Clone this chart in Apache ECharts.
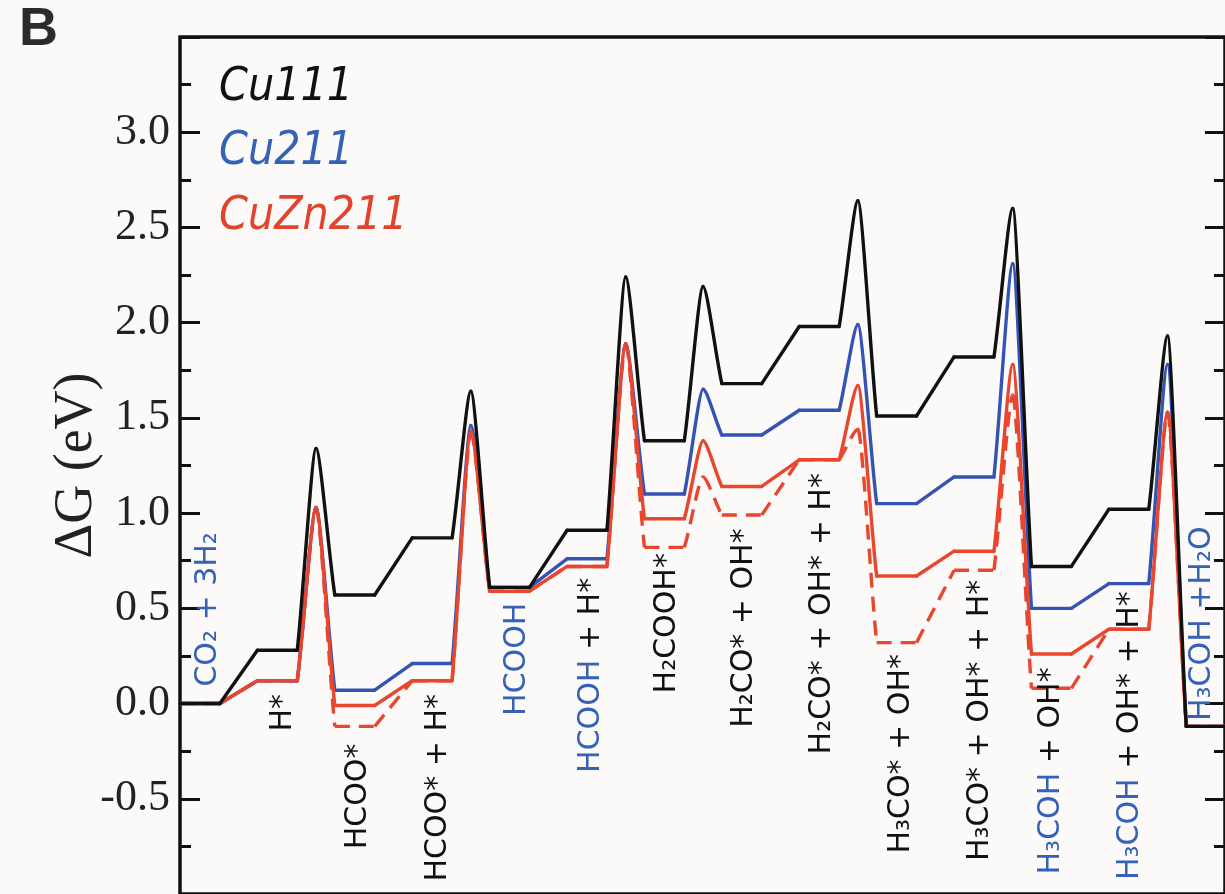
<!DOCTYPE html>
<html>
<head>
<meta charset="utf-8">
<script src="https://cdn.jsdelivr.net/npm/echarts@6/dist/echarts.min.js"></script>
<style>
  html, body { margin: 0; padding: 0; background: #fcfaf9; }
  #chart { width: 1225px; height: 894px; }
</style>
</head>
<body>
<div id="chart"></div>
<script>
// Intermediate states along the formate route of CO2 hydrogenation to methanol.
// Each label is split into gas-phase (blue) and adsorbed (black) parts.
const stateLabels = [
  [['CO₂ + 3H₂', 'gas']],
  [['H*', 'ads']],
  [['HCOO*', 'ads']],
  [['HCOO* + H*', 'ads']],
  [['HCOOH', 'gas']],
  [['HCOOH', 'gas'], [' + H*', 'ads']],
  [['H₂COOH*', 'ads']],
  [['H₂CO* + OH*', 'ads']],
  [['H₂CO* + OH* + H*', 'ads']],
  [['H₃CO* + OH*', 'ads']],
  [['H₃CO* + OH* + H*', 'ads']],
  [['H₃COH', 'gas'], [' + OH*', 'ads']],
  [['H₃COH', 'gas'], [' + OH* + H*', 'ads']],
  [['H₃COH +H₂O', 'gas']]
];

// Free energy of each state (eV)
const cu111   = [0.00, 0.28, 0.57, 0.87, 0.61, 0.91, 1.38, 1.68, 1.98, 1.51, 1.82, 0.72, 1.02, -0.12];
const cu211   = [0.00, 0.12, 0.07, 0.21, 0.61, 0.76, 1.10, 1.41, 1.54, 1.05, 1.19, 0.50, 0.63, -0.12];
const cuzn211 = [0.00, 0.12, -0.01, 0.12, 0.59, 0.72, 0.97, 1.14, 1.28, 0.67, 0.80, 0.26, 0.39, -0.12];
// CuZn211 with Zn-stabilised intermediates (dashed path)
const cuzn211Zn = [0.00, 0.12, -0.12, 0.12, 0.59, 0.72, 0.82, 0.99, 1.28, 0.32, 0.70, 0.08, 0.39, -0.12];

// Transition states: barrier k sits between state barrierAfter[k] and the next one
const barrierAfter = [1, 3, 5, 6, 8, 10, 12];
const cu111TS     = [1.34, 1.64, 2.24, 2.19, 2.64, 2.60, 1.93];
const cu211TS     = [1.03, 1.46, 1.89, 1.65, 1.99, 2.31, 1.78];
const cuzn211TS   = [1.03, 1.43, 1.89, 1.38, 1.67, 1.78, 1.53];
const cuzn211ZnTS = [1.03, 1.43, 1.89, 1.19, 1.44, 1.62, 1.53];

// Y axis
const yMin = -1.0, yMax = 3.5, yStep = 0.5;

// Where each state label ends (its top): [x offset within the step, energy]
const labelLayout = [
  [0.36, 0.90], [0.33, 0.05], [0.30, -0.21], [0.33, 0.05], [0.36, 0.53],
  [0.31, 0.66], [0.29, 0.79], [0.29, 0.92], [0.29, 1.21], [0.32, 0.26],
  [0.34, 0.65], [0.25, 0.19], [0.28, 0.59], [0.20, 0.93]
];

const PLATEAU = 0.515;   // fraction of a step taken by the flat level
const X_MAX = 13.5;

const BLACK = '#111111', BLUE = '#3454b4', RED = '#e8462e';
const TEXT_BLUE = '#3561b6';

function profileRenderer(energies, barriers, style) {
  const tsByState = {};
  barrierAfter.forEach((s, k) => { tsByState[s] = barriers[k]; });
  return function (params, api) {
    const i = api.value(0);
    const e = api.value(1);
    const last = i === energies.length - 1;
    const a = api.coord([i, e]);
    const b = api.coord([last ? X_MAX : i + PLATEAU, e]);
    const children = [{
      type: 'line', shape: { x1: a[0], y1: a[1], x2: b[0], y2: b[1] }, style: style
    }];
    if (!last) {
      const n = api.coord([i + 1, energies[i + 1]]);
      const ts = tsByState[i];
      if (ts === undefined) {
        children.push({ type: 'line', shape: { x1: b[0], y1: b[1], x2: n[0], y2: n[1] }, style: style });
      } else {
        // steep, nearly straight flanks with a rounded summit
        const p = api.coord([i + PLATEAU + (1 - PLATEAU) / 2, ts]);
        const dx = p[0] - b[0];
        children.push({
          type: 'bezierCurve',
          shape: { x1: b[0], y1: b[1],
                   cpx1: b[0] + 0.3 * dx, cpy1: b[1] + 0.25 * (p[1] - b[1]),
                   cpx2: p[0] - 0.22 * dx, cpy2: p[1], x2: p[0], y2: p[1] },
          style: style
        });
        children.push({
          type: 'bezierCurve',
          shape: { x1: p[0], y1: p[1], cpx1: p[0] + 0.22 * dx, cpy1: p[1],
                   cpx2: n[0] - 0.3 * dx, cpy2: n[1] + 0.25 * (p[1] - n[1]),
                   x2: n[0], y2: n[1] },
          style: style
        });
      }
    }
    return { type: 'group', children: children };
  };
}

function profileSeries(name, energies, barriers, color, dashed, z) {
  const style = {
    stroke: color, fill: 'none', lineWidth: 3.4,
    lineCap: dashed ? 'butt' : 'round', lineJoin: 'round'
  };
  if (dashed) style.lineDash = [15, 9];
  return {
    name: name,
    type: 'custom',
    z: z,
    silent: true,
    itemStyle: { color: color },
    renderItem: profileRenderer(energies, barriers, style),
    encode: { x: 0, y: 1 },
    data: energies.map((e, i) => [i, e])
  };
}

function labelRenderer(params, api) {
  const i = api.value(2);
  const p = api.coord([i + labelLayout[i][0], labelLayout[i][1]]);
  const text = stateLabels[i].map(([t, kind]) => '{' + kind + '|' + t + '}').join('');
  return {
    type: 'text',
    x: p[0], y: p[1],
    rotation: Math.PI / 2,
    style: {
      text: text,
      align: 'right',
      verticalAlign: 'middle',
      fontFamily: 'DejaVu Sans',
      fontSize: 30,
      fill: BLACK,
      rich: {
        gas: { fill: TEXT_BLUE, fontFamily: 'DejaVu Sans', fontSize: 30 },
        ads: { fill: BLACK, fontFamily: 'DejaVu Sans', fontSize: 30 }
      }
    }
  };
}

const chart = echarts.init(document.getElementById('chart'), null, { renderer: 'canvas' });

const tickLine = { color: BLACK, width: 3 };

chart.setOption({
  animation: false,
  backgroundColor: '#fcfaf9',
  graphic: [{
    type: 'text', left: 19, top: 3,
    style: { text: 'B', font: 'bold 54px "Liberation Sans"', fill: '#2b2b2b' }
  }],
  legend: {
    orient: 'vertical',
    left: 209, top: 60,
    itemWidth: 0, itemHeight: 0, itemGap: 18.5,
    selectedMode: false,
    textStyle: {
      fontFamily: '"DejaVu Sans Condensed", "DejaVu Sans"',
      fontSize: 46, fontStyle: 'italic', lineHeight: 46
    },
    data: [
      { name: 'Cu111', textStyle: { color: BLACK } },
      { name: 'Cu211', textStyle: { color: TEXT_BLUE } },
      { name: 'CuZn211', textStyle: { color: '#e2432c' } }
    ]
  },
  grid: {
    left: 180, right: -3, top: 37, bottom: -3.5,
    show: true, borderColor: BLACK, borderWidth: 3.5, backgroundColor: 'transparent'
  },
  xAxis: { type: 'value', min: 0, max: X_MAX, show: false },
  yAxis: [{
    type: 'value', min: yMin, max: yMax, interval: yStep,
    name: 'ΔG (eV)', nameLocation: 'middle', nameGap: 76, nameMoveOverlap: false,
    nameTextStyle: { fontFamily: 'Liberation Serif', fontSize: 54, color: '#222' },
    axisLine: { show: false },
    axisTick: { inside: true, length: 20, lineStyle: tickLine },
    minorTick: { show: true, splitNumber: 2, length: 11, lineStyle: tickLine },
    splitLine: { show: false },
    axisLabel: {
      margin: 10, fontFamily: 'Liberation Serif', fontSize: 44, color: '#222',
      formatter: v => (v > yMax - 0.01 || v < yMin + 0.01) ? '' : v.toFixed(1)
    }
  }, {
    type: 'value', position: 'right', min: yMin, max: yMax, interval: yStep,
    axisLine: { show: false },
    axisTick: { inside: true, length: 20, lineStyle: tickLine },
    minorTick: { show: true, splitNumber: 2, length: 11, lineStyle: tickLine },
    splitLine: { show: false },
    axisLabel: { show: false }
  }],
  series: [
    profileSeries('CuZn211 (Zn sites)', cuzn211Zn, cuzn211ZnTS, RED, true, 2),
    profileSeries('Cu211', cu211, cu211TS, BLUE, false, 3),
    profileSeries('CuZn211', cuzn211, cuzn211TS, RED, false, 4),
    profileSeries('Cu111', cu111, cu111TS, BLACK, false, 5),
    {
      name: 'states', type: 'custom', z: 6, silent: true,
      renderItem: labelRenderer,
      encode: { x: 0, y: 1 },
      data: labelLayout.map((l, i) => [i + l[0], l[1], i])
    }
  ]
});
</script>
</body>
</html>
